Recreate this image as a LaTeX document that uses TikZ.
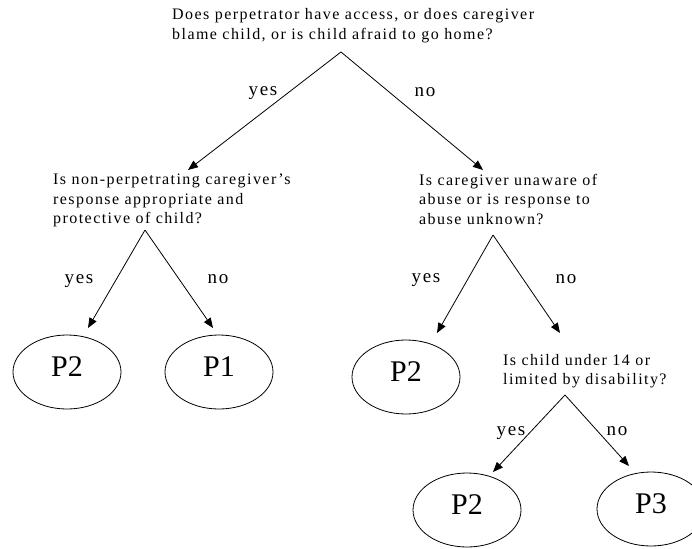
\documentclass[tikz,border=0pt]{standalone}
\usepackage{fontspec}
\setmainfont{Liberation Serif}
\newfontfamily\spacedfont[LetterSpace=9]{Liberation Serif}
\usetikzlibrary{arrows.meta,shapes.geometric}
\pgfdeclarelayer{edgelayer}
\pgfdeclarelayer{nodelayer}
\pgfsetlayers{edgelayer,nodelayer,main}
\tikzstyle{none} = []
\tikzstyle{question} = [inner sep=0, anchor=north west, align=left, font=\spacedfont\fontsize{16}{19.5}\selectfont]
\tikzstyle{answer} = [inner sep=0, anchor=base, font=\spacedfont\fontsize{19}{22}\selectfont]
\tikzstyle{outcome} = [draw, ellipse, line width=0.8pt, minimum width=108pt, minimum height=74pt, inner sep=0, text height=20pt, text depth=12pt, font=\fontsize{30}{32}\selectfont]
\tikzstyle{branch} = [line width=0.8pt, -{Triangle[length=10pt,width=8pt]}]

\begin{document}
\begin{tikzpicture}[x=1pt, y=-1pt]
	\useasboundingbox (0,0) rectangle (692,548);
	\begin{pgfonlayer}{nodelayer}
		\node [style=question] (0) at (172, 8.5) {Does perpetrator have access, or does caregiver\\blame child, or is child afraid to go home?};
		\node [style=none] (1) at (341, 52) {};
		\node [style=none] (2) at (188, 170) {};
		\node [style=none] (3) at (483, 170) {};
		\node [style=answer] (4) at (263, 96) {yes};
		\node [style=answer] (5) at (425, 97) {no};
		\node [style=question] (6) at (53, 174) {Is non-perpetrating caregiver’s\\response appropriate and\\protective of child?};
		\node [style=none] (7) at (145, 230) {};
		\node [style=none] (8) at (88, 328) {};
		\node [style=none] (9) at (213, 328) {};
		\node [style=answer] (10) at (79, 283) {yes};
		\node [style=answer] (11) at (218, 283) {no};
		\node [style=outcome] (12) at (67, 372) {P2};
		\node [style=outcome] (13) at (219, 372) {P1};
		\node [style=question] (14) at (419, 174) {Is caregiver unaware of\\abuse or is response to\\abuse unknown?};
		\node [style=none] (15) at (493, 235) {};
		\node [style=none] (16) at (437, 333) {};
		\node [style=none] (17) at (560, 333) {};
		\node [style=answer] (18) at (426, 282) {yes};
		\node [style=answer] (19) at (566, 283) {no};
		\node [style=outcome] (20) at (406, 377) {P2};
		\node [style=question] (21) at (503, 354) {Is child under 14 or\\limited by disability?};
		\node [style=none] (22) at (565, 395) {};
		\node [style=none] (23) at (493, 472) {};
		\node [style=none] (24) at (629, 466) {};
		\node [style=answer] (25) at (511, 435) {yes};
		\node [style=answer] (26) at (617, 435) {no};
		\node [style=outcome] (27) at (467, 510) {P2};
		\node [style=outcome] (28) at (651, 509) {P3};
	\end{pgfonlayer}
	\begin{pgfonlayer}{edgelayer}
		\draw [style=branch] (1.center) to (2.center);
		\draw [style=branch] (1.center) to (3.center);
		\draw [style=branch] (7.center) to (8.center);
		\draw [style=branch] (7.center) to (9.center);
		\draw [style=branch] (15.center) to (16.center);
		\draw [style=branch] (15.center) to (17.center);
		\draw [style=branch] (22.center) to (23.center);
		\draw [style=branch] (22.center) to (24.center);
	\end{pgfonlayer}
\end{tikzpicture}
\end{document}
